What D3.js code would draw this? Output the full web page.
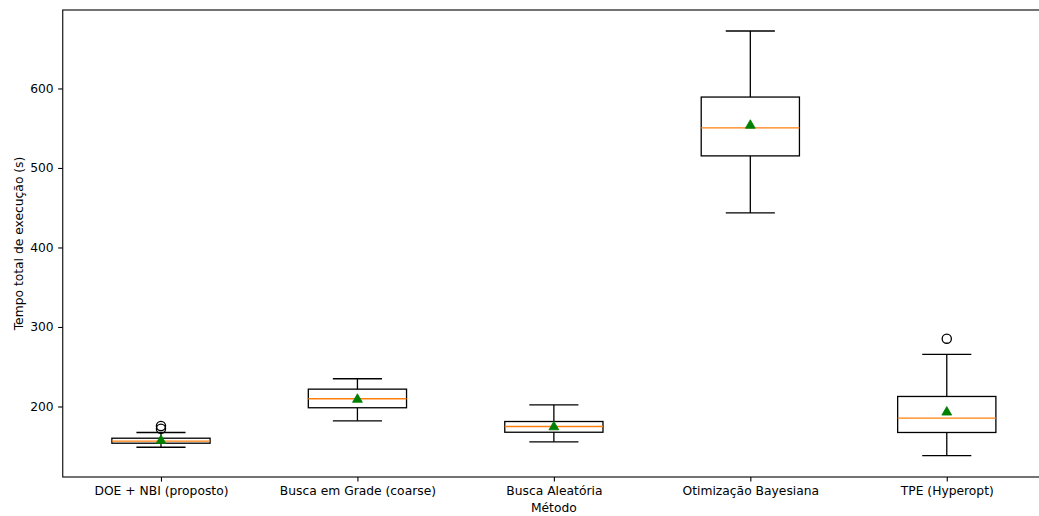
<!DOCTYPE html>
<html>
<head>
<meta charset="utf-8">
<script src="https://cdn.jsdelivr.net/npm/d3@7"></script>
<style>
  html, body { margin: 0; padding: 0; background: #fff; }
  svg { display: block; }
  text { font-family: "DejaVu Sans", sans-serif; fill: #000; }
</style>
</head>
<body>
<svg id="chart" width="1039" height="516"></svg>
<script>
// Box statistics per method (seconds)
const categories = ["DOE + NBI (proposto)", "Busca em Grade (coarse)", "Busca Aleatória", "Otimização Bayesiana", "TPE (Hyperopt)"];
const whiskerLow  = [148.7, 182.0, 155.5, 443.5, 138.3];
const q1          = [153.8, 198.4, 167.6, 515.2, 167.3];
const medians     = [156.5, 209.7, 174.8, 550.5, 185.3];
const q3          = [160.1, 221.8, 181.1, 589.2, 212.6];
const whiskerHigh = [167.3, 234.9, 202.1, 672.3, 265.5];
const means       = [157.0, 208.8, 174.2, 553.5, 192.8];
const outliers    = [[172.0, 175.5], [], [], [], [285.3]];
const yTicks      = [200, 300, 400, 500, 600];

const svg = d3.select("#chart");
const plot = { left: 62.75, right: 1045, top: 10, bottom: 477 };
const fontSize = "12.3px";

const x = d3.scaleLinear().domain([0.5, categories.length + 0.5]).range([plot.left, plot.right]);
const y = d3.scaleLinear().domain([111.3, 698.7]).range([plot.bottom, plot.top]);

const boxHalf = (x(1.25) - x(1));   // box width 0.5
const capHalf = boxHalf / 2;

const boxes = categories.map((c, i) => ({
  pos: i + 1, lo: whiskerLow[i], q1: q1[i], med: medians[i], q3: q3[i],
  hi: whiskerHigh[i], mean: means[i], fliers: outliers[i]
}));

const g = svg.append("g");
const stroke = "#000";
const lw = 1.3;

boxes.forEach(b => {
  const cx = x(b.pos);
  // whiskers
  g.append("line").attr("x1", cx).attr("x2", cx).attr("y1", y(b.q1)).attr("y2", y(b.lo))
    .attr("stroke", stroke).attr("stroke-width", lw);
  g.append("line").attr("x1", cx).attr("x2", cx).attr("y1", y(b.q3)).attr("y2", y(b.hi))
    .attr("stroke", stroke).attr("stroke-width", lw);
  // caps
  [b.lo, b.hi].forEach(v => {
    g.append("line").attr("x1", cx - capHalf).attr("x2", cx + capHalf).attr("y1", y(v)).attr("y2", y(v))
      .attr("stroke", stroke).attr("stroke-width", lw);
  });
  // box
  g.append("rect").attr("x", cx - boxHalf).attr("y", y(b.q3))
    .attr("width", 2 * boxHalf).attr("height", y(b.q1) - y(b.q3))
    .attr("fill", "none").attr("stroke", stroke).attr("stroke-width", lw);
  // median
  g.append("line").attr("x1", cx - boxHalf).attr("x2", cx + boxHalf).attr("y1", y(b.med)).attr("y2", y(b.med))
    .attr("stroke", "#ff7f0e").attr("stroke-width", lw);
  // outliers
  b.fliers.forEach(v => {
    g.append("circle").attr("cx", cx).attr("cy", y(v)).attr("r", 4.6)
      .attr("fill", "none").attr("stroke", stroke).attr("stroke-width", lw);
  });
  // mean marker
  g.append("path")
    .attr("d", d3.symbol().type(d3.symbolTriangle).size(42)())
    .attr("transform", `translate(${cx},${y(b.mean)})`)
    .attr("fill", "green").attr("stroke", "green").attr("stroke-width", 0.8);
});

// axes
const xAxis = d3.axisBottom(x).tickValues(d3.range(1, categories.length + 1))
  .tickFormat(d => categories[d - 1]).tickSizeOuter(0).tickSizeInner(4.6).tickPadding(4.5);
const yAxis = d3.axisLeft(y).tickValues(yTicks).tickSizeOuter(0).tickSizeInner(4.6).tickPadding(4.5);

const gx = svg.append("g").attr("transform", `translate(0,${plot.bottom})`).call(xAxis);
const gy = svg.append("g").attr("transform", `translate(${plot.left},0)`).call(yAxis);
[gx, gy].forEach(a => {
  a.select(".domain").remove();
  a.selectAll(".tick line").attr("stroke", "#000").attr("stroke-width", 1.1);
  a.selectAll(".tick text").style("font-size", fontSize).style("font-family", "DejaVu Sans, sans-serif").attr("fill", "#000");
});

// frame
svg.append("rect").attr("x", plot.left).attr("y", plot.top)
  .attr("width", plot.right - plot.left).attr("height", plot.bottom - plot.top)
  .attr("fill", "none").attr("stroke", "#000").attr("stroke-width", 1.1);

// axis titles
svg.append("text").attr("x", x(3)).attr("y", 511.5).attr("text-anchor", "middle")
  .style("font-size", fontSize).text("Método");
svg.append("text").attr("transform", `translate(22.5,${(plot.top + plot.bottom) / 2}) rotate(-90)`)
  .attr("text-anchor", "middle").style("font-size", fontSize).text("Tempo total de execução (s)");
</script>
</body>
</html>
